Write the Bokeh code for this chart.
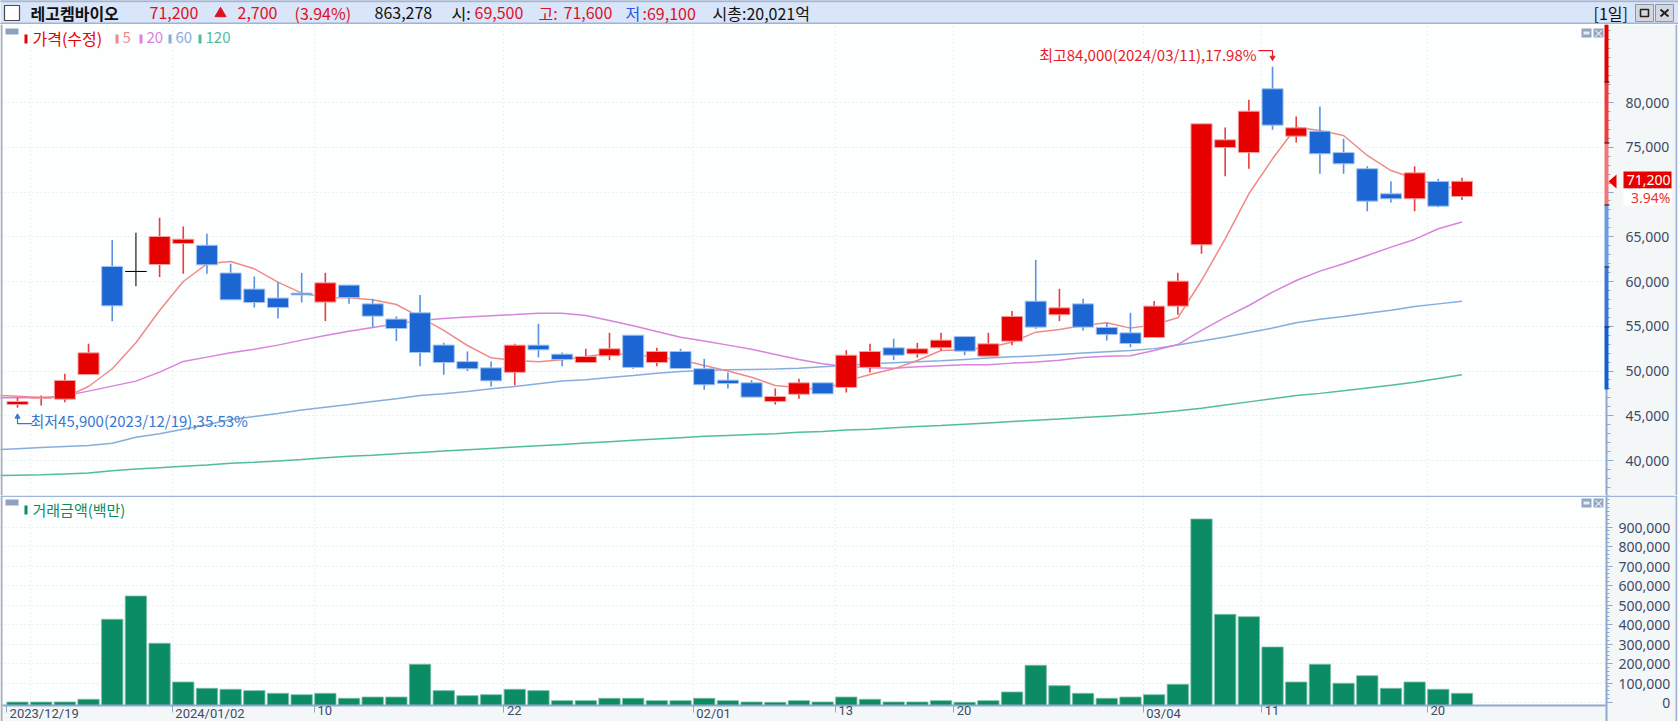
from bokeh.plotting import figure
from bokeh.layouts import column
from bokeh.models import (Range1d, LinearAxis, Grid, FixedTicker, NumeralTickFormatter, ColumnDataSource,
                          BoxAnnotation, Label, LabelSet, PolyAnnotation)
from bokeh.core.properties import value
from bokeh.embed import file_html
from bokeh.resources import INLINE

# ---------------- data ----------------
opens = [46250,46950,46850,49600,61680,61120,61900,64250,64050,60950,59150,58150,58700,57700,59600,57500,55800,56500,52900,51050,
         50350,49850,52890,51880,50950,51700,54000,50950,52180,50250,48980,48680,46600,47400,48680,48160,50400,52590,51920,52590,
         53850,51660,53330,57800,56280,57500,54860,54260,53740,57250,64100,74970,74400,81530,76240,76800,74400,72600,69800,69240,
         71180,69500]
closes = [46600,47080,48950,52030,57280,61120,65030,64730,61860,57950,57650,57100,58500,59850,58200,56130,54750,52070,50950,50250,
          48900,52890,52370,51290,51620,52480,50400,52180,50280,48460,48600,47080,47150,48680,47450,51770,52180,51770,52480,53450,
          52220,53040,56100,54900,57060,54900,54080,53070,57250,60040,77620,75830,79030,77470,77170,74270,73150,68980,69240,72140,
          68420,71200]
highs = [47000,47270,49690,53040,64650,65440,67120,66150,65330,61980,60560,59930,60970,60970,59600,58070,56090,58480,53150,52180,
         51070,53040,55270,52070,52480,54270,54000,52590,52480,51360,49830,48980,48050,49130,48680,52330,53040,53600,53150,54270,
         53860,54270,56690,62420,59180,58070,55390,56500,57810,60970,77620,77210,80300,84000,78440,79550,75940,72890,71210,72890,
         71470,71600]
lows = [45900,46150,46520,49580,55570,59480,60490,60860,60860,57950,57100,55870,57660,55570,57510,54900,53340,50540,49580,49990,
        48270,48400,51510,50540,50950,51210,50240,50540,50280,47900,48050,47080,46250,46890,47450,47600,49830,51210,51510,52290,
        51770,51660,52890,54710,55570,54530,53400,52660,53740,56280,63090,71770,72590,76950,75530,72030,72030,67860,68830,67860,
        68310,69100]
ma5 = [47190,47040,47080,48270,50250,53150,56760,60000,61980,62240,61420,59930,58700,58180,58180,57960,57430,56020,54530,52850,
       51470,51180,51030,51250,51620,51960,51850,51550,51250,50620,49990,49310,48380,48120,47900,48870,49610,50240,51180,52290,
       52370,52660,53220,54340,54640,55090,55390,54790,55160,55940,60110,64770,69800,73710,77240,76870,76310,74080,72400,71500,
       70700,70300]
ma20 = [47000,47000,47230,47750,48310,48870,49870,51070,51550,52030,52440,52890,53450,53970,54450,54860,55270,55640,55870,56020,
        56170,56300,56460,56460,56200,55640,55050,54410,53780,53340,52890,52440,51850,51290,50800,50500,50360,50320,50470,50580,
        50690,50690,50880,51000,51200,51500,51650,51700,52300,52950,54530,56000,57320,58810,60110,61160,61980,62910,63840,64700,
        65890,66650]
ma60 = [41320,41440,41560,41680,41920,42600,43000,43500,44000,44590,44920,45260,45630,45960,46260,46600,46890,47270,47450,47710,
        48010,48270,48570,48870,49020,49280,49500,49760,49950,50060,50130,50170,50210,50320,50470,50620,50800,50910,51030,51140,
        51290,51440,51580,51700,51850,52000,52150,52300,52500,52900,53350,53800,54300,54800,55400,55780,56100,56450,56800,57200,
        57500,57800]
ma120 = [38350,38400,38500,38600,38850,39050,39200,39350,39500,39700,39800,39950,40100,40300,40480,40600,40750,40900,41050,41200,
         41350,41500,41650,41800,41950,42100,42250,42400,42550,42700,42800,42900,43000,43150,43250,43400,43500,43650,43800,43900,
         44050,44200,44350,44500,44650,44800,44950,45100,45300,45550,45850,46200,46550,46900,47250,47500,47800,48100,48400,48750,
         49150,49570]
ma_lead = [47270, 47000, 41200, 38300]   # values just left of the first session
volume = [2000,2000,2600,16400,426600,546000,303600,105000,72800,67700,60800,47000,40000,47000,21500,28000,28000,196000,60800,35000,
          40000,67700,60800,9400,9400,21500,21500,9400,9400,21500,9400,2600,1000,9400,2600,28000,16400,2600,2600,9400,
          1000,9400,53800,190800,86200,47000,21500,28000,40000,93300,941000,452000,440000,284600,105000,196000,98500,137400,72800,105000,
          67700,47000]
date_idx = [0,7,13,21,29,35,40,48,53,60]
date_labels = ["2023/12/19","2024/01/02","10","22","02/01","13","20","03/04","11","20"]
price_ticks = [40000,45000,50000,55000,60000,65000,70000,75000,80000]
volume_ticks = [0,100000,200000,300000,400000,500000,600000,700000,800000,900000]
ma_names = ["5","20","60","120"]

# ---------------- styling ----------------
FONT = "Noto Sans CJK KR"
W = 1678
RED, BLUE, GREEN = "#e60000", "#1b66d2", "#0c8c64"
MA_COL = ["#f08a8a", "#d884dc", "#86aedc", "#52bca0"]
AXBG, PLOTBG, EDGE = "#f4f7f8", "#fdfefe", "#9fb4d8"
LBL = "#3d4a68"
n = len(opens)
STEP, C0 = 23.68, 17.0
RIGHT = 1605
fx = lambda px: (px - C0) / STEP
x_range = Range1d(fx(0), fx(W))
fy = lambda py: 40000 + (460 - py) * 1000 / 8.95      # page y -> price
idx = list(range(n))

def box(p, l, r, t, b, color, level="overlay"):
    p.add_layout(BoxAnnotation(left=l, right=r, top=t, bottom=b, left_units="canvas", right_units="canvas",
                               top_units="canvas", bottom_units="canvas", fill_color=color, fill_alpha=1,
                               line_color=None, level=level))

def small_buttons(p, t):
    for l in (1581, 1593):
        box(p, l, l + 10, t, t + 9, "#93a6c0")
    box(p, 1583, 1589, t + 3, t + 6, "#e8eef6")
    p.add_layout(Label(x=1598, y=t + 4, x_units="canvas", y_units="canvas", text="×", text_color="#ffffff", text_align="center",
                       text_baseline="middle", text_font_size="11px", text_font=FONT, level="overlay"))

# ---------------- header ----------------
h = figure(width=W, height=24, x_range=(0, W), y_range=(24, 0), x_axis_type=None, y_axis_type=None,
           toolbar_location=None, output_backend="svg", min_border=0, outline_line_color=None,
           background_fill_color="#d9e5f9", border_fill_color="#d9e5f9")
h.grid.visible = False
h.quad(left=[0, 0], right=[W, W], top=[0, 22.5], bottom=[1.2, 24], color=["#a4b4cc", EDGE])
h.quad(left=[4], right=[19], top=[5], bottom=[20], fill_color="#ffffff", line_color="#4a4a4a", line_width=1.2)
h.quad(left=[1635, 1655], right=[1653, 1673], top=[4, 4], bottom=[21, 21], fill_color="#d4d8de", line_color="#8c96a4")
h.quad(left=[1640], right=[1648], top=[9], bottom=[16], fill_color=None, line_color="#222222", line_width=1.6)
h.line(x=[1660, 1668], y=[9, 16], line_color="#222222", line_width=2)
h.line(x=[1660, 1668], y=[16, 9], line_color="#222222", line_width=2)
hx = [149, 237, 294, 374, 451, 474, 538, 563, 625, 642, 712, 1593]
ht = ["71,200", "2,700", "(3.94%)", "863,278", "시:", "69,500", "고:", "71,600", "저", ":69,100", "시총:20,021억", "[1일]"]
hc = ["#e0101e", "#e0101e", "#e0101e", "#111111", "#111111", "#e0101e", "#e0101e", "#e0101e", "#3050f0", "#e0101e", "#111111", "#111111"]
h.text(x=hx, y=[12] * len(hx), text=ht, text_color=hc, text_font=value(FONT), text_font_size="16px",
       text_baseline="middle", text_align="left")
h.text(x=[30], y=[12], text=["레고켐바이오"], text_color="#111111", text_font=value(FONT), text_font_size="16px",
       text_font_style="bold", text_baseline="middle")
h.scatter(x=[220], y=[13], marker="triangle", size=11, color="#e0101e")

# ---------------- price panel ----------------
p = figure(width=W, height=471, x_range=x_range, y_range=Range1d(fy(495), fy(24)), x_axis_type=None, y_axis_type=None,
           toolbar_location=None, output_backend="svg", min_border=0, outline_line_color=None,
           background_fill_color=PLOTBG, border_fill_color=AXBG)
grid_x = [(i + 1 if i == 0 else i) - 0.46 for i in date_idx]
tick_x = [i - 0.46 for i in date_idx]
GRID = dict(grid_line_color="#dde2e7", grid_line_dash="1 3", grid_line_width=1)
p.add_layout(Grid(dimension=0, ticker=FixedTicker(ticks=grid_x), **GRID))
p.add_layout(Grid(dimension=1, ticker=FixedTicker(ticks=price_ticks), **GRID))
p.quad(left=[fx(RIGHT)], right=[fx(W)], bottom=[fy(495)], top=[fy(24)], fill_color=AXBG, line_color=None)
ax = LinearAxis(ticker=FixedTicker(ticks=price_ticks, minor_ticks=list(range(37000, 88001, 1000))),
                formatter=NumeralTickFormatter(format="0,0"), major_label_text_font="Noto Sans",
                major_label_text_font_size="14px", major_label_text_color=LBL, axis_line_color="#8fa8d0", axis_line_width=2,
                major_tick_line_color="#8fa8d0", minor_tick_line_color="#8fa8d0", major_tick_in=0, major_tick_out=7,
                minor_tick_in=0, minor_tick_out=4, major_label_standoff=12, fixed_location=fx(RIGHT + 1))
p.add_layout(ax, "right")
for vals, lead, col in zip((ma120, ma60, ma20, ma5), ma_lead[::-1], MA_COL[::-1]):
    p.line(x=[-1] + idx, y=[lead] + vals, line_color=col, line_width=1.5)

wick = [RED if c > o else BLUE if c < o else "#555555" for o, c in zip(opens, closes)]
wick = ["#ea3c3c" if w == RED else "#5a90de" if w == BLUE else w for w in wick]
body = [RED if c > o else BLUE if c < o else "#000000" for o, c in zip(opens, closes)]
edge = ["#f4a4a4" if c > o else "#a4c4ee" if c < o else "#000000" for o, c in zip(opens, closes)]
src = ColumnDataSource(dict(x=idx, o=opens, c=closes, h=highs, l=lows, wick=wick, body=body, edge=edge))
p.segment(x0="x", x1="x", y0="l", y1="h", source=src, line_color="wick", line_width=1.6)
p.vbar(x="x", top="o", bottom="c", width=0.89, source=src, fill_color="body", line_color="edge", line_width=1)

# high / low markers
hi = highs.index(max(highs))
lo = lows.index(min(lows))
UP = 1000 / 8.95
HI_C, LO_C = "#ea1c2c", "#3a78d0"
p.text(x=[hi], y=[highs[hi]], text=["최고84,000(2024/03/11),17.98%"], text_color=HI_C, text_font=value(FONT),
       text_font_size="15px", text_align="right", text_baseline="middle", x_offset=-16, y_offset=-12)
p.line(x=[hi - 0.6, hi, hi], y=[highs[hi] + 16 * UP, highs[hi] + 16 * UP, highs[hi] + 10 * UP], line_color=HI_C, line_width=1.2)
p.scatter(x=[hi], y=[highs[hi] + 9 * UP], marker="inverted_triangle", size=5, color=HI_C)
p.text(x=[lo], y=[lows[lo]], text=["최저45,900(2023/12/19),35.53%"], text_color=LO_C, text_font=value(FONT),
       text_font_size="15px", text_align="left", text_baseline="middle", x_offset=13, y_offset=13)
p.line(x=[lo, lo, lo + 0.63], y=[lows[lo] - 10 * UP, lows[lo] - 16 * UP, lows[lo] - 16 * UP], line_color=LO_C, line_width=1.2)
p.scatter(x=[lo], y=[lows[lo] - 9 * UP], marker="triangle", size=5, color=LO_C)

# legend
def chip(fig, l, col, t, b):
    box(fig, l, l + 3, t, b, col)
LY = fy(37)
p.text(x=[fx(32)], y=[LY], text=["가격(수정)"], text_color=RED, text_font=value(FONT), text_font_size="16px", text_baseline="middle")
chip(p, 24, RED, 10, 19)
for lx, name, col in zip((115, 139, 168, 198), ma_names, MA_COL):
    chip(p, lx, col, 10, 19)
    p.text(x=[fx(lx + 7)], y=[LY], text=[name], text_color=col, text_font=value(FONT), text_font_size="15px", text_baseline="middle")

box(p, 5, 18, 4, 10, "#8fa2bd")
small_buttons(p, 4)
# coloured band on the axis line
for t, b, col in [(0, 58, "#e60000"), (58, 119, "#ee3c3c"), (119, 181, "#f07878"), (181, 243, "#6a9ce4"),
                  (243, 303, "#3a78d8"), (303, 365, "#1060d0")]:
    box(p, 1604, 1608, t, b, col)
for t in (58, 119, 181, 243, 303):
    box(p, 1604, 1609, t - 1, t, "#111111")
# last price tag
box(p, 1623, 1671, 147, 164, "#e60000")
box(p, 1623, 1671, 164, 181, "#ffffff")
p.add_layout(PolyAnnotation(xs=[1608, 1616, 1616], ys=[157, 150, 164], xs_units="canvas", ys_units="canvas",
                            fill_color="#e60000", fill_alpha=1, line_color=None))
p.add_layout(Label(x=1670, y=155.5, x_units="canvas", y_units="canvas", text="71,200", text_color="#ffffff", text_align="right",
                   text_baseline="middle", text_font="Noto Sans", text_font_size="14px", level="overlay"))
p.add_layout(Label(x=1670, y=172.5, x_units="canvas", y_units="canvas", text="3.94%", text_color="#f03030", text_align="right",
                   text_baseline="middle", text_font="Noto Sans", text_font_size="14px", level="overlay"))
box(p, 0, 2, 0, 471, "#a6aebc")
box(p, 1675, 1677, 0, 471, EDGE)
box(p, 1677, 1678, 0, 471, "#ffffff")

# ---------------- volume panel ----------------
v_scale = 100000 / 19.5
BASE = -3 * v_scale
q = figure(width=W, height=226, x_range=x_range, y_range=Range1d(-19 * v_scale, 207 * v_scale), x_axis_type=None, y_axis_type=None,
           toolbar_location=None, output_backend="svg", min_border=0, outline_line_color=None,
           background_fill_color=PLOTBG, border_fill_color=AXBG)
q.add_layout(Grid(dimension=0, ticker=FixedTicker(ticks=grid_x), **GRID))
q.add_layout(Grid(dimension=1, ticker=FixedTicker(ticks=volume_ticks), **GRID))
q.quad(left=[fx(RIGHT)], right=[fx(W)], bottom=[-19 * v_scale], top=[207 * v_scale], fill_color=AXBG, line_color=None)
q.quad(left=[fx(0)], right=[fx(W)], bottom=[-19 * v_scale], top=[BASE], fill_color=AXBG, line_color=None)
vax = LinearAxis(ticker=FixedTicker(ticks=volume_ticks, minor_ticks=list(range(0, 1060001, 20000))),
                 formatter=NumeralTickFormatter(format="0,0"), major_label_text_font="Noto Sans",
                 major_label_overrides={0: "\u2007" * 5 + "\u2008" + "0"},
                 major_label_text_font_size="14px", major_label_text_color=LBL, axis_line_color="#8fa8d0", axis_line_width=2,
                 major_tick_line_color="#8fa8d0", minor_tick_line_color="#8fa8d0", major_tick_in=0, major_tick_out=6,
                 minor_tick_in=0, minor_tick_out=3, major_label_standoff=6, fixed_location=fx(RIGHT + 1))
q.add_layout(vax, "right")
xax = LinearAxis(ticker=FixedTicker(ticks=tick_x), axis_line_color="#8fa8d0", axis_line_width=2, major_tick_line_color="#8fa8d0",
                 major_tick_in=0, major_tick_out=7, minor_tick_line_color=None, major_label_text_color=None,
                 major_label_text_font_size="1px", major_label_standoff=0, fixed_location=BASE, bounds=(fx(2), fx(RIGHT)))
q.add_layout(xax, "below")
q.vbar(x=idx, top=volume, bottom=BASE, width=0.9, fill_color=GREEN, line_color="#78bea6", line_width=0.8)
q.add_layout(LabelSet(x="x", y=(702 - 705.5) * v_scale, text="t", x_offset=3,
                      source=ColumnDataSource(dict(x=tick_x, t=date_labels)), text_font=value("Roboto"), text_font_size="13px",
                      text_color=LBL, text_align="left", text_baseline="top"))
q.text(x=[fx(32)], y=[(702 - 509) * v_scale], text=["거래금액(백만)"], text_color=GREEN, text_font=value(FONT),
       text_font_size="15px", text_baseline="middle")
chip(q, 24, GREEN, 10, 19)
box(q, 5, 18, 4, 10, "#8fa2bd")
small_buttons(q, 3)
box(q, 0, 1675, 0, 1.5, EDGE)
box(q, 0, 2, 0, 226, "#a6aebc")
box(q, 1675, 1677, 0, 226, EDGE)
box(q, 1677, 1678, 0, 226, "#ffffff")

page = column(h, p, q, spacing=0)
open("out.html", "w").write(file_html(page, INLINE))
